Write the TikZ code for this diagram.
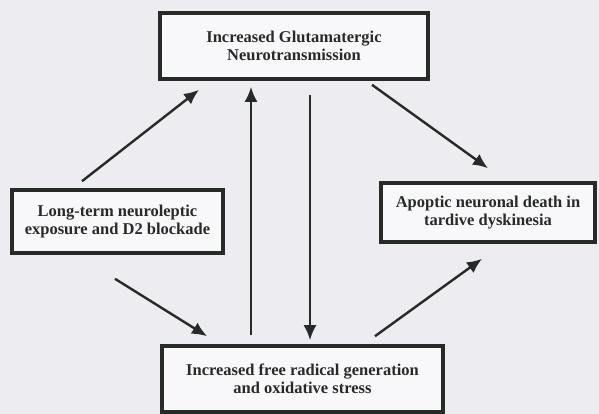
\documentclass[tikz,border=0pt]{standalone}
\usepackage{fontspec}
\setmainfont{Liberation Serif}
\usetikzlibrary{arrows.meta}
\definecolor{paper}{HTML}{EDECF1}
\definecolor{ink}{HTML}{272B28}

\begin{document}
\begin{tikzpicture}[x=1pt,y=-1pt]

		\tikzset{box/.style = {shape=rectangle,draw=ink,line width=3.6pt,fill=white!60!paper,
			align=center,font=\fontsize{16.5}{18.5}\selectfont\bfseries,text=ink,inner sep=0pt}}
		\tikzset{arr/.style = {draw=ink,line width=2.4pt,-{Latex[length=15pt,width=13pt]}}}
		\fill[paper] (0,0) rectangle (599,414);
		\useasboundingbox (0,0) rectangle (599,414);
		\node[box,minimum width=268pt,minimum height=66pt] (glut) at (294,46)
			{Increased Glutamatergic\\Neurotransmission};
		\node[box,minimum width=211pt,minimum height=63pt] (neuro) at (117.5,221.5)
			{Long-term neuroleptic\\exposure and D2 blockade};
		\node[box,minimum width=214pt,minimum height=59pt] (apop) at (488,212.5)
			{Apoptic neuronal death in\\tardive dyskinesia};
		\node[box,minimum width=281pt,minimum height=66pt] (radical) at (302.5,379)
			{Increased free radical generation\\and oxidative stress};
		%arrows
		\draw[arr] ([xshift=-35.5pt,yshift=7pt]neuro.north) -- ([xshift=-95pt,yshift=-9pt]glut.south);
		\draw[arr] ([xshift=-51.5pt,yshift=9pt]radical.north) -- ([xshift=-43pt,yshift=-6pt]glut.south);
		\draw[arr] ([xshift=16pt,yshift=-14pt]glut.south) -- ([xshift=7.5pt,yshift=4pt]radical.north);
		\draw[arr] ([xshift=78pt,yshift=-4pt]glut.south) -- ([yshift=13pt]apop.north);
		\draw[arr] ([xshift=-2.5pt,yshift=-24pt]neuro.south) -- ([xshift=-95.5pt,yshift=8pt]radical.north);
		\draw[arr] ([xshift=72.5pt,yshift=8pt]radical.north) -- ([xshift=-6pt,yshift=-15pt]apop.south);
\end{tikzpicture}
\end{document}
